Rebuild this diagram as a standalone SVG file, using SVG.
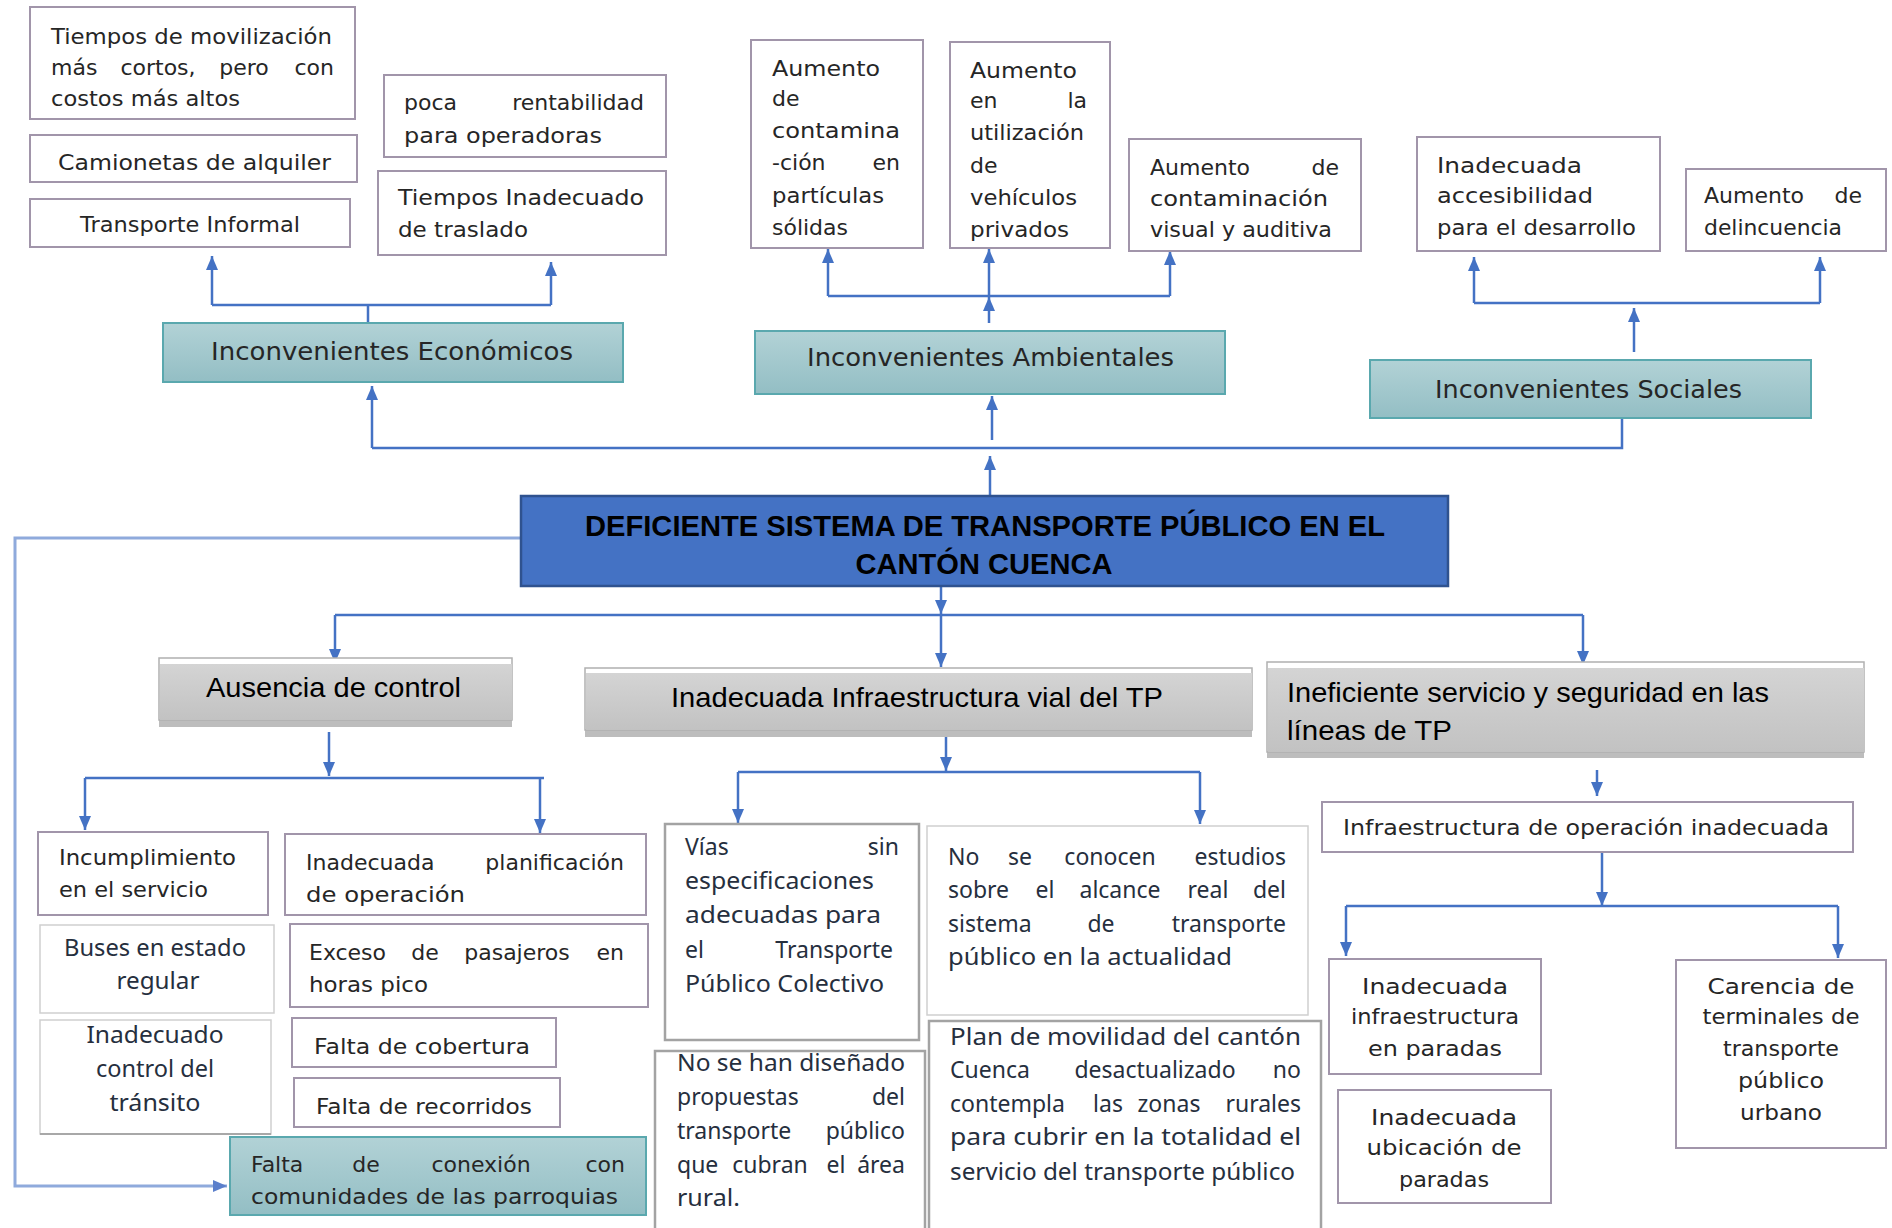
<svg xmlns="http://www.w3.org/2000/svg" width="1892" height="1228" viewBox="0 0 1892 1228">
<defs>
<linearGradient id="gTeal" x1="0" y1="0" x2="0" y2="1"><stop offset="0" stop-color="#b2d2d6"/><stop offset="1" stop-color="#93bec4"/></linearGradient>
<linearGradient id="gGray" x1="0" y1="0" x2="0" y2="1"><stop offset="0" stop-color="#d4d4d4"/><stop offset="1" stop-color="#c2c2c2"/></linearGradient>
<marker id="ah" markerUnits="userSpaceOnUse" viewBox="0 0 14 12" refX="14" refY="6" markerWidth="14" markerHeight="12" orient="auto"><path d="M0,0 L14,6 L0,12 z" fill="#4472c4"/></marker>
<marker id="ah2" markerUnits="userSpaceOnUse" viewBox="0 0 14 12" refX="14" refY="6" markerWidth="14" markerHeight="12" orient="auto"><path d="M0,0 L14,6 L0,12 z" fill="#5b7fcb"/></marker>
<style>
.bx{fill:#fff;stroke:#a195aa;stroke-width:2}
.tl{fill:url(#gTeal);stroke:#5aa8ae;stroke-width:2}
.gb{fill:#fff;stroke:#a3a3a3;stroke-width:2.5}
.lb{fill:#fff;stroke:#cfcfcf;stroke-width:1.5}
.go{fill:#fff;stroke:#b0b0b0;stroke-width:1.5}
.gi{fill:url(#gGray)}
.gs{fill:#bdbdbd}
.c{fill:none;stroke:#4472c4;stroke-width:2.5}
.ca{marker-end:url(#ah)}
.cg{font-family:"DejaVu Sans","Liberation Sans",sans-serif;font-size:22px;fill:#262626}
.s21{font-size:21px}
.hd{font-family:"DejaVu Sans","Liberation Sans",sans-serif;font-size:25px;fill:#262626}
.ar{font-family:"Liberation Sans",Arial,sans-serif;font-size:28px;fill:#000}
.mn{font-family:"Liberation Sans",Arial,sans-serif;font-size:30px;font-weight:bold;fill:#000}
.cb{font-family:"Noto Sans","Liberation Sans",sans-serif;font-size:23px;fill:#262f3e}
.e{text-anchor:end}
.m{text-anchor:middle}
</style>
</defs>
<rect width="1892" height="1228" fill="#fff"/>

<g id="connectors">
<path class="c" d="M368,323 V305 M212,305 H551"/>
<path class="c ca" d="M212,305 V256"/>
<path class="c ca" d="M551,305 V262"/>
<path class="c ca" d="M990,495 V456"/>
<path class="c" d="M372,448 H1622 V419"/>
<path class="c ca" d="M372,448 V386"/>
<path class="c ca" d="M992,440 V396"/>
<path class="c ca" d="M989,323 V297"/>
<path class="c" d="M828,296 H1170"/>
<path class="c ca" d="M828,296 V249"/>
<path class="c ca" d="M989,296 V249"/>
<path class="c ca" d="M1170,296 V251"/>
<path class="c ca" d="M1634,352 V308"/>
<path class="c" d="M1474,303 H1820"/>
<path class="c ca" d="M1474,303 V257"/>
<path class="c ca" d="M1820,303 V257"/>
<path class="c ca" d="M941,586 V614"/>
<path class="c" d="M335,615 H1583"/>
<path class="c ca" d="M335,615 V663"/>
<path class="c ca" d="M941,615 V667"/>
<path class="c ca" d="M1583,615 V665"/>
<path class="c ca" d="M329,732 V776"/>
<path class="c" d="M85,778 H544"/>
<path class="c ca" d="M85,778 V830"/>
<path class="c ca" d="M540,778 V833"/>
<path class="c ca" d="M946,737 V771"/>
<path class="c" d="M738,772 H1200"/>
<path class="c ca" d="M738,772 V823"/>
<path class="c ca" d="M1200,772 V824"/>
<path class="c ca" d="M1597,770 V796"/>
<path class="c ca" d="M1602,852 V906"/>
<path class="c" d="M1346,906 H1838"/>
<path class="c ca" d="M1346,906 V956"/>
<path class="c ca" d="M1838,906 V958"/>
<path d="M521,538 H15 V1186 H227" fill="none" stroke="#8faadc" stroke-width="3" marker-end="url(#ah2)"/>
</g>

<g id="n-econ-1">
<rect class="bx" x="30" y="7" width="325" height="112"/>
<text class="cg" x="51" y="44" textLength="281" lengthAdjust="spacingAndGlyphs">Tiempos de movilización</text>
<text class="cg" x="51" y="75">más</text><text class="cg m" x="158" y="75">cortos,</text><text class="cg m" x="244" y="75">pero</text><text class="cg e" x="334" y="75">con</text>
<text class="cg" x="51" y="106" textLength="189" lengthAdjust="spacingAndGlyphs">costos más altos</text>
</g>
<g id="n-econ-2">
<rect class="bx" x="30" y="135" width="327" height="47"/>
<text class="cg" x="58" y="170" textLength="273" lengthAdjust="spacingAndGlyphs">Camionetas de alquiler</text>
</g>
<g id="n-econ-3">
<rect class="bx" x="30" y="199" width="320" height="48"/>
<text class="cg" x="80" y="232" textLength="220" lengthAdjust="spacingAndGlyphs">Transporte Informal</text>
</g>
<g id="n-econ-4">
<rect class="bx" x="384" y="75" width="282" height="82"/>
<text class="cg" x="404" y="110">poca</text><text class="cg e" x="644" y="110">rentabilidad</text>
<text class="cg" x="404" y="143" textLength="198" lengthAdjust="spacingAndGlyphs">para operadoras</text>
</g>
<g id="n-econ-5">
<rect class="bx" x="378" y="171" width="288" height="84"/>
<text class="cg" x="398" y="205" textLength="246" lengthAdjust="spacingAndGlyphs">Tiempos Inadecuado</text>
<text class="cg" x="398" y="237" textLength="130" lengthAdjust="spacingAndGlyphs">de traslado</text>
</g>
<g id="n-econ">
<rect class="tl" x="163" y="323" width="460" height="59"/>
<text class="hd" x="211" y="360" textLength="362" lengthAdjust="spacingAndGlyphs">Inconvenientes Económicos</text>
</g>

<g id="n-amb-1">
<rect class="bx" x="751" y="40" width="172" height="208"/>
<text class="cg" x="772" y="76" textLength="108" lengthAdjust="spacingAndGlyphs">Aumento</text>
<text class="cg" x="772" y="106">de</text>
<text class="cg" x="772" y="138" textLength="128" lengthAdjust="spacingAndGlyphs">contamina</text>
<text class="cg" x="772" y="170">-ción</text><text class="cg e" x="900" y="170">en</text>
<text class="cg" x="772" y="203" textLength="112" lengthAdjust="spacingAndGlyphs">partículas</text>
<text class="cg" x="772" y="235" textLength="76" lengthAdjust="spacingAndGlyphs">sólidas</text>
</g>
<g id="n-amb-2">
<rect class="bx" x="950" y="42" width="160" height="206"/>
<text class="cg" x="970" y="78" textLength="107" lengthAdjust="spacingAndGlyphs">Aumento</text>
<text class="cg" x="970" y="108">en</text><text class="cg e" x="1087" y="108">la</text>
<text class="cg" x="970" y="140" textLength="114" lengthAdjust="spacingAndGlyphs">utilización</text>
<text class="cg" x="970" y="173">de</text>
<text class="cg" x="970" y="205" textLength="107" lengthAdjust="spacingAndGlyphs">vehículos</text>
<text class="cg" x="970" y="237" textLength="99" lengthAdjust="spacingAndGlyphs">privados</text>
</g>
<g id="n-amb-3">
<rect class="bx" x="1129" y="139" width="232" height="112"/>
<text class="cg" x="1150" y="175">Aumento</text><text class="cg e" x="1339" y="175">de</text>
<text class="cg" x="1150" y="206" textLength="178" lengthAdjust="spacingAndGlyphs">contaminación</text>
<text class="cg" x="1150" y="237" textLength="182" lengthAdjust="spacingAndGlyphs">visual y auditiva</text>
</g>
<g id="n-amb">
<rect class="tl" x="755" y="331" width="470" height="63"/>
<text class="hd" x="807" y="366" textLength="367" lengthAdjust="spacingAndGlyphs">Inconvenientes Ambientales</text>
</g>

<g id="n-soc-1">
<rect class="bx" x="1417" y="137" width="243" height="114"/>
<text class="cg" x="1437" y="173" textLength="145" lengthAdjust="spacingAndGlyphs">Inadecuada</text>
<text class="cg" x="1437" y="203" textLength="156" lengthAdjust="spacingAndGlyphs">accesibilidad</text>
<text class="cg" x="1437" y="235" textLength="199" lengthAdjust="spacingAndGlyphs">para el desarrollo</text>
</g>
<g id="n-soc-2">
<rect class="bx" x="1686" y="169" width="200" height="82"/>
<text class="cg" x="1704" y="203">Aumento</text><text class="cg e" x="1862" y="203">de</text>
<text class="cg" x="1704" y="235" textLength="138" lengthAdjust="spacingAndGlyphs">delincuencia</text>
</g>
<g id="n-soc">
<rect class="tl" x="1370" y="360" width="441" height="58"/>
<text class="hd" x="1435" y="398" textLength="307" lengthAdjust="spacingAndGlyphs">Inconvenientes Sociales</text>
</g>

<g id="n-main">
<rect x="521" y="496" width="927" height="90" fill="#4472c4" stroke="#2f528f" stroke-width="2.5"/>
<text class="mn m" x="985" y="536" textLength="800" lengthAdjust="spacingAndGlyphs">DEFICIENTE SISTEMA DE TRANSPORTE PÚBLICO EN EL</text>
<text class="mn m" x="984" y="574" textLength="257" lengthAdjust="spacingAndGlyphs">CANTÓN CUENCA</text>
</g>

<g id="n-ausencia">
<rect class="gs" x="159" y="716" width="353" height="11"/>
<rect class="go" x="159" y="658" width="353" height="62"/>
<rect class="gi" x="160" y="664" width="352" height="56"/>
<text class="ar" x="206" y="697" textLength="255" lengthAdjust="spacingAndGlyphs">Ausencia de control</text>
</g>
<g id="n-infra">
<rect class="gs" x="585" y="726" width="667" height="11"/>
<rect class="go" x="585" y="668" width="667" height="62"/>
<rect class="gi" x="586" y="673" width="666" height="57"/>
<text class="ar" x="671" y="707" textLength="492" lengthAdjust="spacingAndGlyphs">Inadecuada Infraestructura vial del TP</text>
</g>
<g id="n-inef">
<rect class="gs" x="1267" y="748" width="597" height="10"/>
<rect class="go" x="1267" y="662" width="597" height="90"/>
<rect class="gi" x="1268" y="668" width="596" height="84"/>
<text class="ar" x="1287" y="702" textLength="482" lengthAdjust="spacingAndGlyphs">Ineficiente servicio y seguridad en las</text>
<text class="ar" x="1287" y="740" textLength="165" lengthAdjust="spacingAndGlyphs">líneas de TP</text>
</g>

<g id="n-aus-1">
<rect class="bx" x="38" y="832" width="230" height="83"/>
<text class="cg" x="59" y="865" textLength="177" lengthAdjust="spacingAndGlyphs">Incumplimiento</text>
<text class="cg" x="59" y="897" textLength="149" lengthAdjust="spacingAndGlyphs">en el servicio</text>
</g>
<g id="n-aus-2">
<rect class="bx" x="285" y="834" width="361" height="81"/>
<text class="cg" x="306" y="870">Inadecuada</text><text class="cg e" x="624" y="870">planificación</text>
<text class="cg" x="306" y="902" textLength="159" lengthAdjust="spacingAndGlyphs">de operación</text>
</g>
<g id="n-aus-3">
<rect class="lb" x="40" y="925" width="234" height="88"/>
<text class="cb m" x="155" y="956" textLength="182" lengthAdjust="spacingAndGlyphs">Buses en estado</text>
<text class="cb m" x="158" y="989" textLength="83" lengthAdjust="spacingAndGlyphs">regular</text>
</g>
<g id="n-aus-4">
<rect class="lb" x="40" y="1020" width="231" height="114"/>
<path d="M40,1134 H271" stroke="#a8a8a8" stroke-width="2"/>
<text class="cb m" x="155" y="1043" textLength="137" lengthAdjust="spacingAndGlyphs">Inadecuado</text>
<text class="cb m" x="155" y="1077" textLength="118" lengthAdjust="spacingAndGlyphs">control del</text>
<text class="cb m" x="155" y="1111" textLength="91" lengthAdjust="spacingAndGlyphs">tránsito</text>
</g>
<g id="n-aus-5">
<rect class="bx" x="290" y="924" width="358" height="83"/>
<text class="cg" x="309" y="960" textLength="77" lengthAdjust="spacingAndGlyphs">Exceso</text><text class="cg m" x="425" y="960">de</text><text class="cg m" x="517" y="960">pasajeros</text><text class="cg e" x="624" y="960">en</text>
<text class="cg" x="309" y="992" textLength="119" lengthAdjust="spacingAndGlyphs">horas pico</text>
</g>
<g id="n-aus-6">
<rect class="bx" x="292" y="1018" width="264" height="49"/>
<text class="cg" x="314" y="1054" textLength="216" lengthAdjust="spacingAndGlyphs">Falta de cobertura</text>
</g>
<g id="n-aus-7">
<rect class="bx" x="294" y="1078" width="266" height="49"/>
<text class="cg" x="316" y="1114" textLength="216" lengthAdjust="spacingAndGlyphs">Falta de recorridos</text>
</g>
<g id="n-aus-8">
<rect class="tl" x="230" y="1137" width="416" height="78"/>
<text class="cg" x="251" y="1172">Falta</text><text class="cg m" x="366" y="1172">de</text><text class="cg m" x="481" y="1172">conexión</text><text class="cg e" x="625" y="1172">con</text>
<text class="cg" x="251" y="1204" textLength="367" lengthAdjust="spacingAndGlyphs">comunidades de las parroquias</text>
</g>

<g id="n-inf-1">
<rect class="gb" x="665" y="824" width="254" height="216"/>
<text class="cb" x="685" y="855">Vías</text><text class="cb e" x="899" y="855">sin</text>
<text class="cb" x="685" y="889" textLength="189" lengthAdjust="spacingAndGlyphs">especificaciones</text>
<text class="cb" x="685" y="923" textLength="196" lengthAdjust="spacingAndGlyphs">adecuadas  para</text>
<text class="cb" x="685" y="958">el</text><text class="cb e" x="893" y="958">Transporte</text>
<text class="cb" x="685" y="992" textLength="199" lengthAdjust="spacingAndGlyphs">Público Colectivo</text>
</g>
<g id="n-inf-2">
<rect class="lb" x="927" y="826" width="381" height="189"/>
<text class="cb" x="948" y="865">No</text><text class="cb m" x="1020" y="865">se</text><text class="cb m" x="1110" y="865">conocen</text><text class="cb e" x="1286" y="865">estudios</text>
<text class="cb" x="948" y="898">sobre</text><text class="cb m" x="1045" y="898">el</text><text class="cb m" x="1120" y="898">alcance</text><text class="cb m" x="1208" y="898">real</text><text class="cb e" x="1286" y="898">del</text>
<text class="cb" x="948" y="932">sistema</text><text class="cb m" x="1101" y="932">de</text><text class="cb e" x="1286" y="932">transporte</text>
<text class="cb" x="948" y="965" textLength="284" lengthAdjust="spacingAndGlyphs">público en la actualidad</text>
</g>
<g id="n-inf-3">
<rect class="gb" x="655" y="1051" width="270" height="185"/>
<text class="cb" x="677" y="1071" textLength="228" lengthAdjust="spacingAndGlyphs">No se han diseñado</text>
<text class="cb" x="677" y="1105">propuestas</text><text class="cb e" x="905" y="1105">del</text>
<text class="cb" x="677" y="1139">transporte</text><text class="cb e" x="905" y="1139">público</text>
<text class="cb" x="677" y="1173">que</text><text class="cb m" x="770" y="1173">cubran</text><text class="cb m" x="836" y="1173">el</text><text class="cb e" x="905" y="1173">área</text>
<text class="cb" x="677" y="1206" textLength="63" lengthAdjust="spacingAndGlyphs">rural.</text>
</g>
<g id="n-inf-4">
<rect class="gb" x="929" y="1021" width="392" height="215"/>
<text class="cb" x="950" y="1045" textLength="351" lengthAdjust="spacingAndGlyphs">Plan de movilidad del cantón</text>
<text class="cb" x="950" y="1078">Cuenca</text><text class="cb m" x="1155" y="1078">desactualizado</text><text class="cb e" x="1301" y="1078">no</text>
<text class="cb" x="950" y="1112">contempla</text><text class="cb m" x="1108" y="1112">las</text><text class="cb m" x="1169" y="1112">zonas</text><text class="cb e" x="1301" y="1112">rurales</text>
<text class="cb" x="950" y="1145" textLength="351" lengthAdjust="spacingAndGlyphs">para cubrir en la totalidad el</text>
<text class="cb" x="950" y="1180" textLength="345" lengthAdjust="spacingAndGlyphs">servicio del transporte público</text>
</g>

<g id="n-inef-1">
<rect class="bx" x="1322" y="802" width="531" height="50"/>
<text class="cg s21" x="1343" y="835" textLength="486" lengthAdjust="spacingAndGlyphs">Infraestructura de operación inadecuada</text>
</g>
<g id="n-inef-2">
<rect class="bx" x="1329" y="959" width="212" height="115"/>
<text class="cg s21 m" x="1435" y="994" textLength="146" lengthAdjust="spacingAndGlyphs">Inadecuada</text>
<text class="cg s21 m" x="1435" y="1024" textLength="168" lengthAdjust="spacingAndGlyphs">infraestructura</text>
<text class="cg s21 m" x="1435" y="1056" textLength="134" lengthAdjust="spacingAndGlyphs">en paradas</text>
</g>
<g id="n-inef-3">
<rect class="bx" x="1338" y="1090" width="213" height="113"/>
<text class="cg s21 m" x="1444" y="1125" textLength="146" lengthAdjust="spacingAndGlyphs">Inadecuada</text>
<text class="cg s21 m" x="1444" y="1155" textLength="155" lengthAdjust="spacingAndGlyphs">ubicación de</text>
<text class="cg s21 m" x="1444" y="1187" textLength="90" lengthAdjust="spacingAndGlyphs">paradas</text>
</g>
<g id="n-inef-4">
<rect class="bx" x="1676" y="960" width="210" height="188"/>
<text class="cg s21 m" x="1781" y="994" textLength="147" lengthAdjust="spacingAndGlyphs">Carencia de</text>
<text class="cg s21 m" x="1781" y="1024" textLength="157" lengthAdjust="spacingAndGlyphs">terminales de</text>
<text class="cg s21 m" x="1781" y="1056" textLength="116" lengthAdjust="spacingAndGlyphs">transporte</text>
<text class="cg s21 m" x="1781" y="1088" textLength="86" lengthAdjust="spacingAndGlyphs">público</text>
<text class="cg s21 m" x="1781" y="1120" textLength="82" lengthAdjust="spacingAndGlyphs">urbano</text>
</g>
</svg>
